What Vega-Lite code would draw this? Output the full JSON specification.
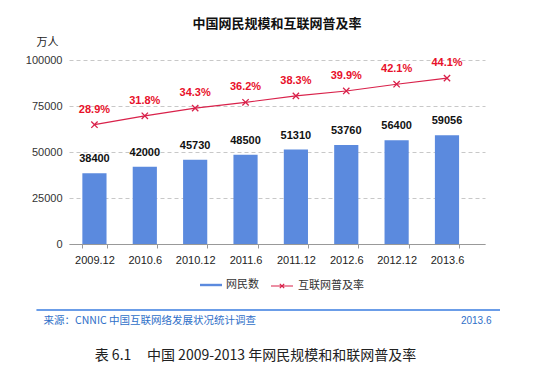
{
  "$schema": "https://vega.github.io/schema/vega-lite/v6.json",
  "width": 416,
  "height": 184,
  "autosize": "none",
  "padding": {"left": 69, "top": 60, "right": 50, "bottom": 133},
  "background": "white",
  "config": {
    "view": {"stroke": null},
    "font": "Liberation Sans, Noto Sans CJK SC",
    "axis": {"labelFont": "Liberation Sans, Noto Sans CJK SC", "titleFont": "Noto Sans CJK SC"}
  },
  "title": {
    "text": "中国网民规模和互联网普及率",
    "font": "Noto Sans CJK SC",
    "fontSize": 13,
    "fontWeight": "bold",
    "color": "#111",
    "anchor": "middle",
    "offset": 5
  },
  "data": {
    "values": [
      {"period": "2009.12", "users": 38400, "rate": 28.9, "rateLabel": "28.9%"},
      {"period": "2010.6", "users": 42000, "rate": 31.8, "rateLabel": "31.8%"},
      {"period": "2010.12", "users": 45730, "rate": 34.3, "rateLabel": "34.3%"},
      {"period": "2011.6", "users": 48500, "rate": 36.2, "rateLabel": "36.2%"},
      {"period": "2011.12", "users": 51310, "rate": 38.3, "rateLabel": "38.3%"},
      {"period": "2012.6", "users": 53760, "rate": 39.9, "rateLabel": "39.9%"},
      {"period": "2012.12", "users": 56400, "rate": 42.1, "rateLabel": "42.1%"},
      {"period": "2013.6", "users": 59056, "rate": 44.1, "rateLabel": "44.1%"}
    ]
  },
  "layer": [
    {
      "layer": [
        {
          "mark": {"type": "bar", "color": "#5b8ade"},
          "encoding": {
            "x": {
              "field": "period",
              "type": "nominal",
              "sort": null,
              "scale": {"paddingInner": 0.52, "paddingOuter": 0.39, "align": 0.34},
              "axis": {
                "orient": "bottom",
                "labelAngle": 0,
                "labelFontSize": 11,
                "labelColor": "#222",
                "labelPadding": 6,
                "domainColor": "#999",
                "tickColor": "#999",
                "tickSize": 4,
                "tickBand": "extent",
                "title": "表\u00a06.1\u00a0\u00a0\u00a0\u00a0\u00a0中国\u00a02009-2013\u00a0年网民规模和和联网普及率",
                "titleFontSize": 14,
                "titleFontWeight": "normal",
                "titleColor": "#222",
                "titleX": 186,
                "titleY": 111,
                "titleAlign": "center",
                "titleBaseline": "middle",
                "titleAnchor": null
              }
            },
            "y": {
              "field": "users",
              "type": "quantitative",
              "scale": {"domain": [0, 100000]},
              "axis": {
                "values": [0, 25000, 50000, 75000, 100000],
                "format": "d",
                "labelFontSize": 11,
                "labelColor": "#333",
                "labelPadding": 7,
                "domain": false,
                "ticks": false,
                "gridDash": [4, 3],
                "gridColor": "#c8c8c8",
                "title": "万人",
                "titleAngle": 0,
                "titleFontSize": 11,
                "titleFontWeight": "normal",
                "titleColor": "#222",
                "titleX": -22,
                "titleY": -18,
                "titleAlign": "center",
                "titleBaseline": "middle"
              }
            },
            "fill": {
              "datum": "网民数",
              "type": "nominal",
              "scale": {"range": ["#5b8ade"]},
              "legend": {
                "orient": "none",
                "legendX": 131,
                "legendY": 214,
                "title": null,
                "symbolType": "M-1,-0.11L1,-0.11L1,0.11L-1,0.11Z",
                "symbolSize": 484,
                "symbolStrokeWidth": 0,
                "labelFont": "Noto Sans CJK SC",
                "labelFontSize": 11,
                "labelColor": "#333",
                "labelOffset": 4
              }
            }
          }
        },
        {
          "mark": {"type": "text", "dy": -9, "fontWeight": "bold", "fontSize": 11, "color": "#111", "baseline": "bottom"},
          "encoding": {
            "x": {"field": "period", "type": "nominal", "sort": null},
            "y": {"field": "users", "type": "quantitative"},
            "text": {"field": "users", "type": "quantitative", "format": "d"}
          }
        },
        {
          "mark": {"type": "rule", "color": "#6b9de8", "strokeWidth": 2, "clip": false},
          "encoding": {
            "x": {"datum": "2009.12", "type": "nominal", "bandPosition": -1.88},
            "x2": {"datum": "2013.6", "bandPosition": 2.69},
            "y": {"datum": -35900, "type": "quantitative"}
          }
        }
      ]
    },
    {
      "encoding": {
        "x": {"field": "period", "type": "nominal", "sort": null, "axis": null}
      },
      "layer": [
        {
          "mark": {"type": "line", "color": "#d9214a", "strokeWidth": 1.2},
          "encoding": {
            "y": {
              "field": "rate",
              "type": "quantitative",
              "scale": {"domain": [-10, 50]},
              "axis": {
                "orient": "right",
                "labels": false,
                "ticks": false,
                "domain": false,
                "grid": false,
                "title": "2013.6",
                "titleAngle": 0,
                "titleFont": "Liberation Sans",
                "titleFontSize": 10,
                "titleFontWeight": "normal",
                "titleColor": "#2f6fc8",
                "titleX": 6,
                "titleY": 260,
                "titleAlign": "right",
                "titleBaseline": "middle"
              }
            },
            "stroke": {
              "datum": "互联网普及率",
              "type": "nominal",
              "scale": {"range": ["#d9214a"]},
              "legend": {
                "orient": "none",
                "legendX": 201,
                "legendY": 214,
                "title": null,
                "symbolType": "M-1,0L1,0M-0.2,-0.2L0.2,0.2M-0.2,0.2L0.2,-0.2",
                "symbolSize": 484,
                "symbolStrokeWidth": 1.2,
                "labelFont": "Noto Sans CJK SC",
                "labelFontSize": 11,
                "labelColor": "#333",
                "labelOffset": 4
              }
            }
          }
        },
        {
          "mark": {"type": "point", "shape": "M-1,-1L1,1M-1,1L1,-1", "color": "#d9214a", "size": 40, "strokeWidth": 1.3, "filled": false, "opacity": 1},
          "encoding": {"y": {"field": "rate", "type": "quantitative"}}
        },
        {
          "mark": {"type": "text", "dy": -15, "fontWeight": "bold", "fontSize": 11, "color": "#e8102a"},
          "encoding": {
            "y": {"field": "rate", "type": "quantitative"},
            "text": {"field": "rateLabel"}
          }
        }
      ]
    },
    {
      "mark": {"type": "text", "opacity": 0},
      "encoding": {
        "x": {
          "field": "period",
          "type": "nominal",
          "sort": null,
          "axis": {
            "orient": "bottom",
            "labels": false,
            "ticks": false,
            "domain": false,
            "grid": false,
            "title": "来源：CNNIC 中国互联网络发展状况统计调查",
            "titleFont": "Noto Sans CJK SC",
            "titleFontSize": 10.5,
            "titleFontWeight": "normal",
            "titleColor": "#2f6fc8",
            "titleX": -26,
            "titleY": 76,
            "titleAlign": "left",
            "titleBaseline": "middle",
            "titleAnchor": null
          }
        },
        "text": {"value": ""}
      }
    }
  ],
  "resolve": {"scale": {"y": "independent", "fill": "independent", "stroke": "independent"}, "axis": {"x": "independent"}}
}
